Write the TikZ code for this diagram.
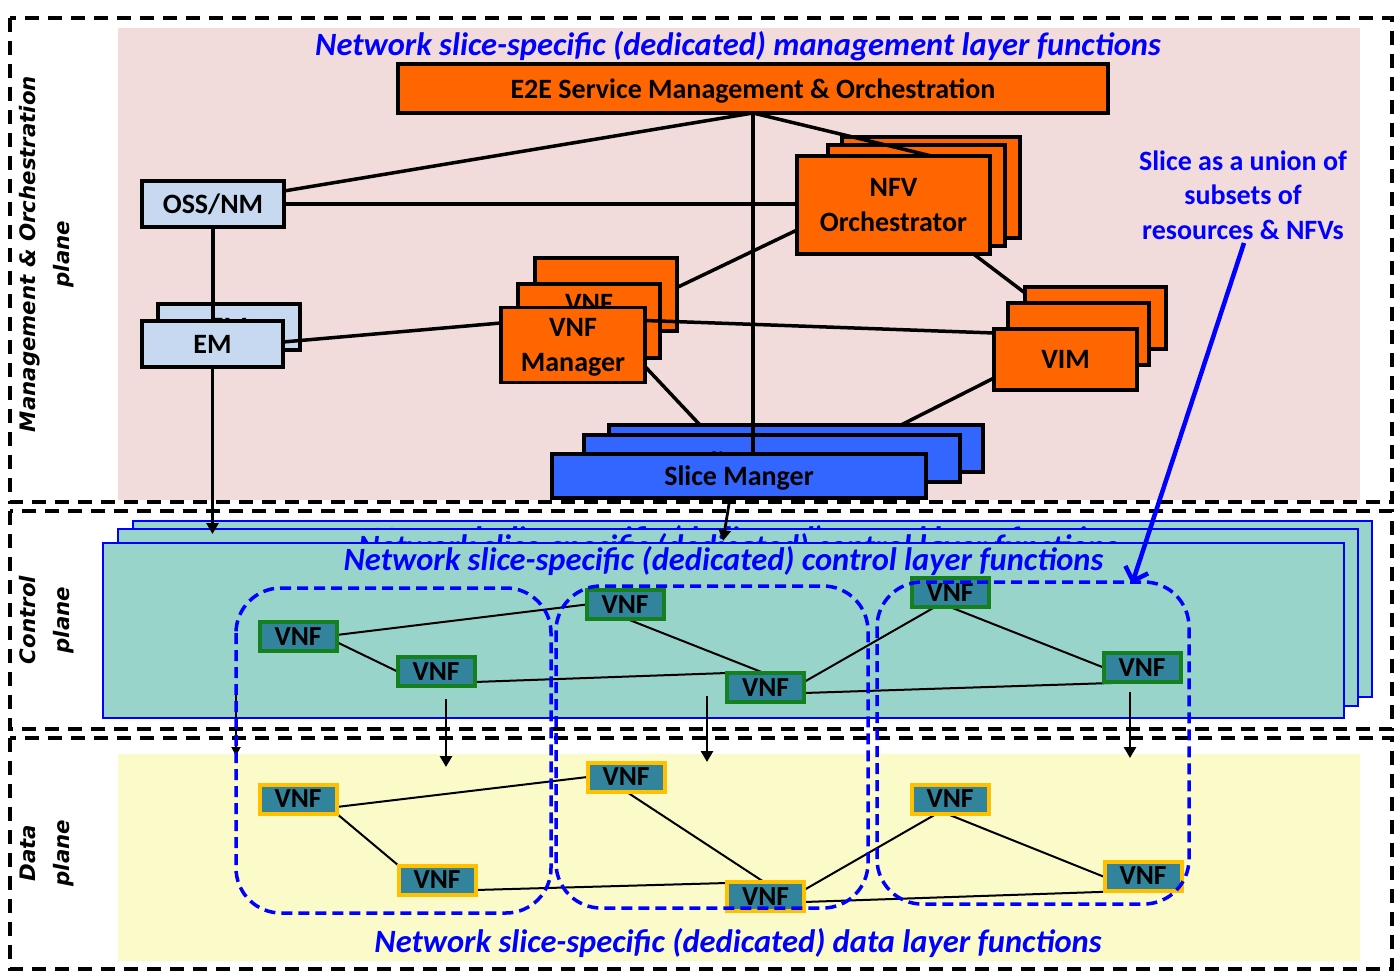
\documentclass[tikz,border=0pt]{standalone}
\usepackage{fontspec}
\setmainfont{Carlito}
\newfontfamily\sidefont{DejaVu Sans}[BoldFont={DejaVu Sans Bold},ItalicFont={DejaVu Sans Oblique},BoldItalicFont={DejaVu Sans Bold Oblique}]
\usetikzlibrary{arrows.meta}
\pgfdeclarelayer{base}
\pgfdeclarelayer{wires}
\pgfdeclarelayer{top}
\pgfsetlayers{base,wires,main,top}

\definecolor{mgmtbg}{RGB}{242,220,219}
\definecolor{databg}{RGB}{250,251,200}
\definecolor{orng}{RGB}{255,102,0}
\definecolor{ossblue}{RGB}{198,217,241}
\definecolor{slblue}{RGB}{51,102,255}
\definecolor{ctlteal}{RGB}{153,212,202}
\definecolor{vnffill}{RGB}{49,132,155}
\definecolor{vnfgreen}{RGB}{20,128,30}
\definecolor{vnfgold}{RGB}{255,192,0}
\definecolor{ttlblue}{RGB}{0,0,255}

\begin{document}
\begin{tikzpicture}[x=1pt,y=-1pt,
  box/.style={draw=black,line width=3.5pt,inner sep=0pt,outer sep=0pt,align=center,text depth=0pt,
    font=\bfseries\fontsize{28}{35}\selectfont},
  orbox/.style={box,fill=orng},
  lbbox/.style={box,fill=ossblue},
  slbox/.style={box,fill=slblue},
  sheet/.style={draw=ttlblue,fill=ctlteal,line width=1.6pt,inner sep=0pt,outer sep=0pt},
  vnfc/.style={draw=vnfgreen,fill=vnffill,line width=4pt,minimum width=77pt,minimum height=29pt,
    inner sep=0pt,outer sep=0pt,font=\bfseries\fontsize{27.5}{30}\selectfont},
  vnfd/.style={vnfc,draw=vnfgold},
  ttl/.style={text=ttlblue,inner sep=0pt,font=\bfseries\itshape\fontsize{32.5}{38}\selectfont},
  link/.style={line width=3.5pt},
  fine/.style={line width=2pt},
  dnarrow/.style={line width=2.8pt,-{Triangle[length=11pt,width=12pt]}},
  slimarrow/.style={line width=1.8pt,-{Triangle[length=9pt,width=9pt]}},
  sliceloop/.style={draw=ttlblue,line width=3.5pt,dash pattern=on 11pt off 6pt,rounded corners=45pt},
  planebox/.style={draw=black,line width=3.6pt,dash pattern=on 14pt off 9pt},
  side/.style={font=\sidefont\bfseries\itshape\fontsize{21.3}{34}\selectfont,align=center,inner sep=0pt},
  note/.style={text=ttlblue,align=center,inner sep=0pt,font=\bfseries\fontsize{28}{34.5}\selectfont}
]
\useasboundingbox (0,0) rectangle (1394,973);

% ---------- backgrounds, plane frames, stacked copies, control sheets ----------
\begin{pgfonlayer}{base}
  \fill[mgmtbg] (118,28) rectangle (1360,500);
  \fill[databg] (118,754) rectangle (1360,961);
  \draw[planebox] (10,18) rectangle (1392,502);
  \draw[planebox] (10,511) rectangle (1392,729);
  \draw[planebox] (10,738) rectangle (1392,969);

  \node[orbox,minimum width=178pt,minimum height=101pt] (nfvoC) at (931,187.5) {};
  \node[orbox,minimum width=177pt,minimum height=101pt] (nfvoB) at (916.5,195.5) {};
  \node[orbox,minimum width=142pt,minimum height=73pt] (vnfmC) at (606,294.5) {};
  \node[orbox,minimum width=142pt,minimum height=74pt] (vnfmB) at (589,321) {VNF\\Manager};
  \node[lbbox,minimum width=142pt,minimum height=46pt] (emB) at (229,327) {EM};
  \node[orbox,minimum width=141pt,minimum height=62pt] (vimC) at (1095.5,318) {};
  \node[orbox,minimum width=141pt,minimum height=62pt] (vimB) at (1078.5,334) {};
  \node[slbox,minimum width=374pt,minimum height=47pt] (smC) at (796,448.5) {};
  \node[slbox,minimum width=376pt,minimum height=47pt] (smB) at (772,458.5) {};
  \node[font=\bfseries\fontsize{28}{35}\selectfont,inner sep=0pt,text depth=0pt] (smBt) at (772,462) {Slice Manger};

  \node[sheet,minimum width=1239.5pt,minimum height=176.5pt] (cpC) at (752.5,609) {};
  \node[ttl,anchor=base] (cpCt) at (752.5,549) {Network slice-specific (dedicated) control layer functions};
  \node[sheet,minimum width=1240.5pt,minimum height=177.5pt] (cpB) at (738,617.5) {};
  \node[ttl,anchor=base] (cpBt) at (738,557) {Network slice-specific (dedicated) control layer functions};
  \node[sheet,minimum width=1241.5pt,minimum height=175.5pt] (cpA) at (723.5,630.5) {};
  \node[ttl,anchor=base] (cpAt) at (723.5,570) {Network slice-specific (dedicated) control layer functions};
\end{pgfonlayer}

% ---------- management and orchestration functions ----------
\node[ttl,anchor=base] (mgttl) at (738,56) {Network slice-specific (dedicated) management layer functions};
\node[orbox,minimum width=710pt,minimum height=49pt] (e2e) at (753,88.5) {E2E Service Management \& Orchestration};
\node[orbox,minimum width=193pt,minimum height=98pt] (nfvo) at (893.5,205) {NFV\\Orchestrator};
\node[lbbox,minimum width=142pt,minimum height=46pt] (oss) at (213,204) {OSS/NM};
\node[lbbox,minimum width=141pt,minimum height=46pt] (em) at (212.5,344) {EM};
\node[orbox,minimum width=144pt,minimum height=75pt] (vnfm) at (573,345) {VNF\\Manager};
\node[orbox,minimum width=143pt,minimum height=61pt] (vim) at (1065.5,359.5) {VIM};
\node[slbox,minimum width=374pt,minimum height=44pt] (sm) at (739,476) {Slice Manger};

% ---------- control plane VNFs ----------
\node[vnfc] (c1) at (298,636.5) {VNF};
\node[vnfc] (c2) at (436,671.5) {VNF};
\node[vnfc] (c3) at (625,604.5) {VNF};
\node[vnfc] (c4) at (765.5,687.5) {VNF};
\node[vnfc] (c5) at (950,592.5) {VNF};
\node[vnfc] (c6) at (1142,667.5) {VNF};

% ---------- data plane VNFs ----------
\node[vnfd] (d1) at (298,799) {VNF};
\node[vnfd] (d2) at (437,880) {VNF};
\node[vnfd] (d3) at (626,777) {VNF};
\node[vnfd] (d4) at (765.5,896.5) {VNF};
\node[vnfd] (d5) at (950,799) {VNF};
\node[vnfd] (d6) at (1143,876) {VNF};
\node[ttl,anchor=base] (dpttl) at (738,952) {Network slice-specific (dedicated) data layer functions};

% free ends of the downward arrows
\coordinate (emTip) at (212.5,534);
\coordinate (smTip) at (723,541);
\coordinate (dnAs) at (446,699);  \coordinate (dnAe) at (446,767);
\coordinate (dnBs) at (707,696);  \coordinate (dnBe) at (707,762);
\coordinate (dnCs) at (1130,692); \coordinate (dnCe) at (1130,758);
\coordinate (dnDs) at (236,690);  \coordinate (dnDe) at (236,756);

% ---------- connectors ----------
\begin{pgfonlayer}{wires}
  \draw[link] (e2e.south) -- ([yshift=-10pt]oss.north east);
  \draw[link] (e2e.south) -- ([xshift=38pt]nfvo.north);
  \draw[link] (e2e.south) -- (e2e.south |- sm.north);
  \draw[link] (oss.east) -- (oss.east -| nfvo.west);
  \draw[link] (oss.south) -- (oss.south |- em.north);
  \draw[link] ([yshift=2pt]em.east) -- ([yshift=22pt]vnfm.west);
  \draw[link] ([yshift=-25pt]nfvo.west) -- ([yshift=7pt]vnfmC.east);
  \draw[link] ([yshift=24.5pt]vnfm.east) -- ([yshift=26.5pt]vim.west);
  \draw[link] ([yshift=-21.5pt]vnfm.east) -- ([xshift=-96pt]smC.north);
  \draw[link] ([xshift=80pt]nfvo.south) -- ([yshift=25pt]vimC.west);
  \draw[link] ([yshift=-18.5pt]vim.west) -- ([xshift=105pt]smC.north);
  \draw[dnarrow] (em.south) -- (emTip);
  \draw[dnarrow] ([xshift=-10pt,yshift=-6pt]sm.south) -- (smTip);

  \draw[fine] ([yshift=1.5pt]c1.east) -- (c3.west);
  \draw[fine] ([yshift=-5.5pt]c1.east) -- (c2.west);
  \draw[fine] ([yshift=-10.5pt]c2.east) -- ([yshift=14.5pt]c4.west);
  \draw[fine] ([xshift=2pt]c3.south) -- ([xshift=-1.5pt]c4.north);
  \draw[fine] ([yshift=5.5pt]c4.east) -- ([xshift=-15pt]c5.south);
  \draw[fine] (c5.south) -- (c6.west);
  \draw[fine] ([yshift=-5.5pt]c4.east) -- (c6.south);

  \draw[dnarrow] (dnAs) -- (dnAe);
  \draw[dnarrow] (dnBs) -- (dnBe);
  \draw[dnarrow] (dnCs) -- (dnCe);
  \draw[slimarrow] (dnDs) -- (dnDe);

  \draw[fine] ([yshift=-8pt]d1.east) -- (d3.west);
  \draw[fine] (d1.south east) -- (d2.north west);
  \draw[fine] ([yshift=-10pt]d2.east) -- ([yshift=13.5pt]d4.west);
  \draw[fine] (d3.south) -- ([xshift=-1.5pt]d4.north);
  \draw[fine] ([yshift=6.5pt]d4.east) -- ([xshift=-13pt]d5.south);
  \draw[fine] ([xshift=-4pt]d5.south) -- ([yshift=-1pt]d6.west);
  \draw[fine] ([yshift=-5.5pt]d4.east) -- (d6.south);
\end{pgfonlayer}

% ---------- slices, note and plane labels ----------
\begin{pgfonlayer}{top}
  \draw[sliceloop] (236,588) rectangle (551,913);
  \draw[sliceloop] (556,586) rectangle (868,908);
  \draw[sliceloop] (877,582) rectangle (1189,904);

  \node[note] (slicenote) at (1243,195) {Slice as a union of\\subsets of\\resources \& NFVs};
  \coordinate (noteTail) at (1244,243);
  \coordinate (noteHead) at (1132,584);
  \draw[draw=ttlblue,line width=4.5pt,-{Straight Barb[length=12pt,width=24pt]}] (noteTail) -- (noteHead);

  \node[side,rotate=90] (mgmtlbl) at (47,254) {Management \& Orchestration\\plane};
  \node[side,rotate=90] (ctllbl) at (47,620) {Control\\plane};
  \node[side,rotate=90] (datalbl) at (47,853) {Data\\plane};
\end{pgfonlayer}
\end{tikzpicture}
\end{document}
